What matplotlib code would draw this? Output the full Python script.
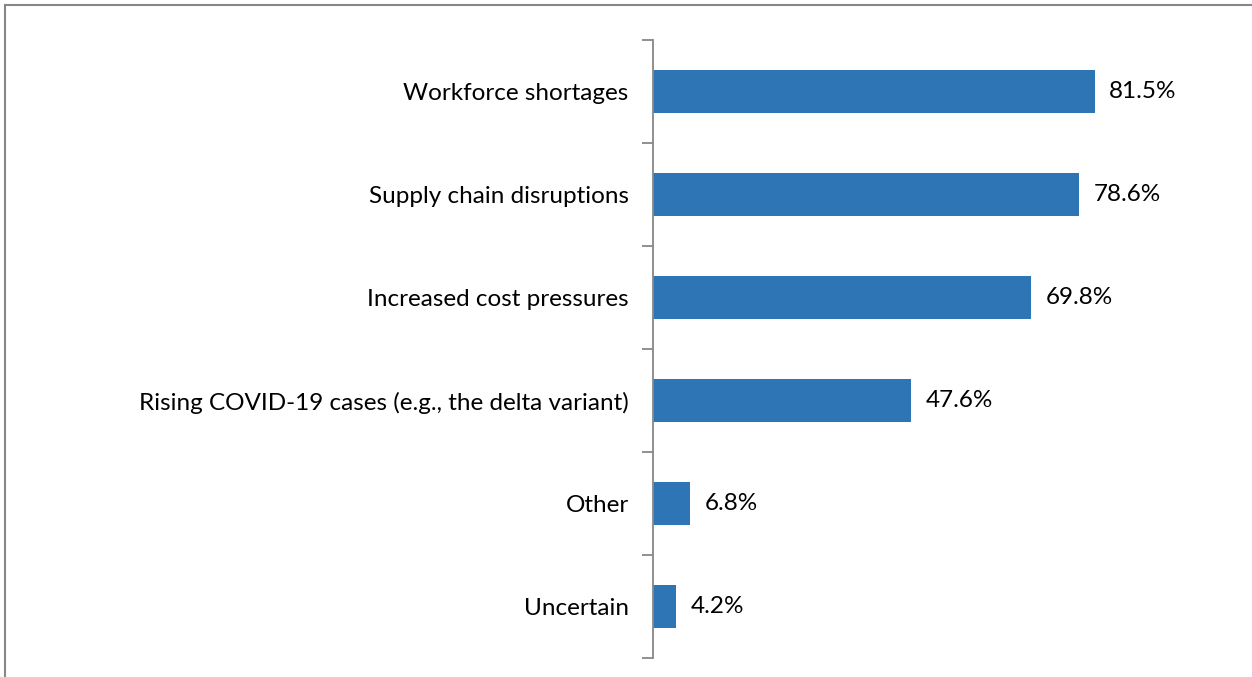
import matplotlib.pyplot as plt
from matplotlib.lines import Line2D

categories = ['Workforce shortages', 'Supply chain disruptions', 'Increased cost pressures',
              'Rising COVID-19 cases (e.g., the delta variant)', 'Other', 'Uncertain']
values = [81.5, 78.6, 69.8, 47.6, 6.8, 4.2]

plt.rcParams['font.family'] = ['Lato', 'DejaVu Sans']

fig = plt.figure(figsize=(12.52, 6.77), dpi=100)
ax = fig.add_axes([653 / 1252, 1 - 658 / 677, 542 / 1252, 618 / 677])

ypos = list(range(len(categories)))
ax.barh(ypos, values, height=0.41, color='#2E75B6')
ax.set_ylim(len(categories) - 0.5, -0.5)
ax.set_xlim(0, 100)

for y, v in zip(ypos, values):
    ax.text(v + 2.7, y, f'{v:.1f}%', va='center', ha='left', fontsize=17.5, color='#000000')

ax.set_yticks([y + 0.5 for y in [-1] + ypos])
ax.set_yticklabels([])
ax.set_yticks(ypos, minor=True)
ax.set_yticklabels(categories, minor=True, fontsize=17.5)
ax.tick_params(axis='y', which='minor', length=0, pad=17.5)
ax.tick_params(axis='y', which='major', length=8, color='#878787', width=1.3)
ax.set_xticks([])

for side in ['top', 'right', 'bottom']:
    ax.spines[side].set_visible(False)
ax.spines['left'].set_color('#878787')
ax.spines['left'].set_linewidth(1.3)

# outer frame of the chart area
fig.add_artist(Line2D([5 / 1252, 5 / 1252], [0, 1 - 5 / 677], color='#878787', lw=1.5, transform=fig.transFigure))
fig.add_artist(Line2D([5 / 1252, 1], [1 - 5 / 677, 1 - 5 / 677], color='#878787', lw=1.5, transform=fig.transFigure))

fig.savefig('out.png', dpi=100)
